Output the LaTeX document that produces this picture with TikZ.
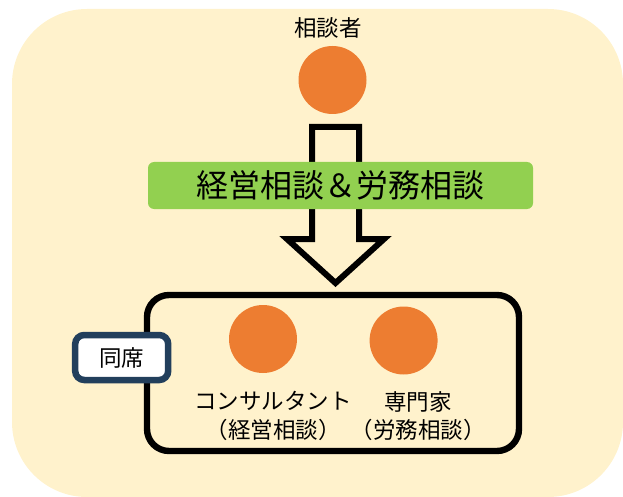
\documentclass[tikz,border=0pt]{standalone}
\usepackage{fontspec}
\setmainfont{Noto Sans CJK JP}
\definecolor{bgcol}{HTML}{FFF2CC}
\definecolor{orangecol}{HTML}{ED7D31}
\definecolor{greencol}{HTML}{92D050}
\definecolor{navycol}{HTML}{223F5C}
\tikzset{
  person/.style={circle,fill=orangecol,minimum size=68pt,inner sep=0pt},
  lbl/.style={font=\fontsize{22.5}{28.5}\selectfont,inner sep=0pt,align=center,text=black},
  banner/.style={fill=greencol,rounded corners=6pt,minimum width=385pt,minimum height=47pt,inner sep=0pt,font=\fontsize{32}{36}\selectfont},
  group/.style={draw=black,line width=6.4pt,rounded corners=22pt},
  tagbox/.style={draw=navycol,fill=white,line width=6.5pt,rounded corners=9pt,minimum width=93pt,minimum height=45pt,inner sep=0pt,font=\fontsize{22.5}{26}\selectfont},
  blockarrow/.style={draw=black,line width=6pt,miter limit=10,line join=miter}
}
\begin{document}
\begin{tikzpicture}[x=1pt,y=-1pt]
\useasboundingbox (0,0) rectangle (623,497);
% background
\fill[bgcol,rounded corners=75pt] (12,9) rectangle (623,497);
% block arrow
\draw[blockarrow] (312,127) -- (359,127) -- (359,239) -- (384,239) -- (335.5,283) -- (287,239) -- (312,239) -- cycle;
% banner
\node[banner] (ban) at (340.5,185.5) {経営相談＆労務相談};
% group box
\draw[group] (147,295) rectangle (519,451);
\coordinate (grp) at (333,373);
% tag
\node[tagbox] (tag) at (121.7,357.5) {同席};
% persons
\node[lbl] (tclient) at (328,28) {相談者};
\node[person] (client) at (332.5,80) {};
\node[person] (cons) at (263,339) {};
\node[person] (expert) at (403.6,340.5) {};
\node[lbl] (lcons) at (273,416) {コンサルタント\\（経営相談）};
\node[lbl] (lexp) at (418,416) {専門家\\（労務相談）};
\end{tikzpicture}
\end{document}
